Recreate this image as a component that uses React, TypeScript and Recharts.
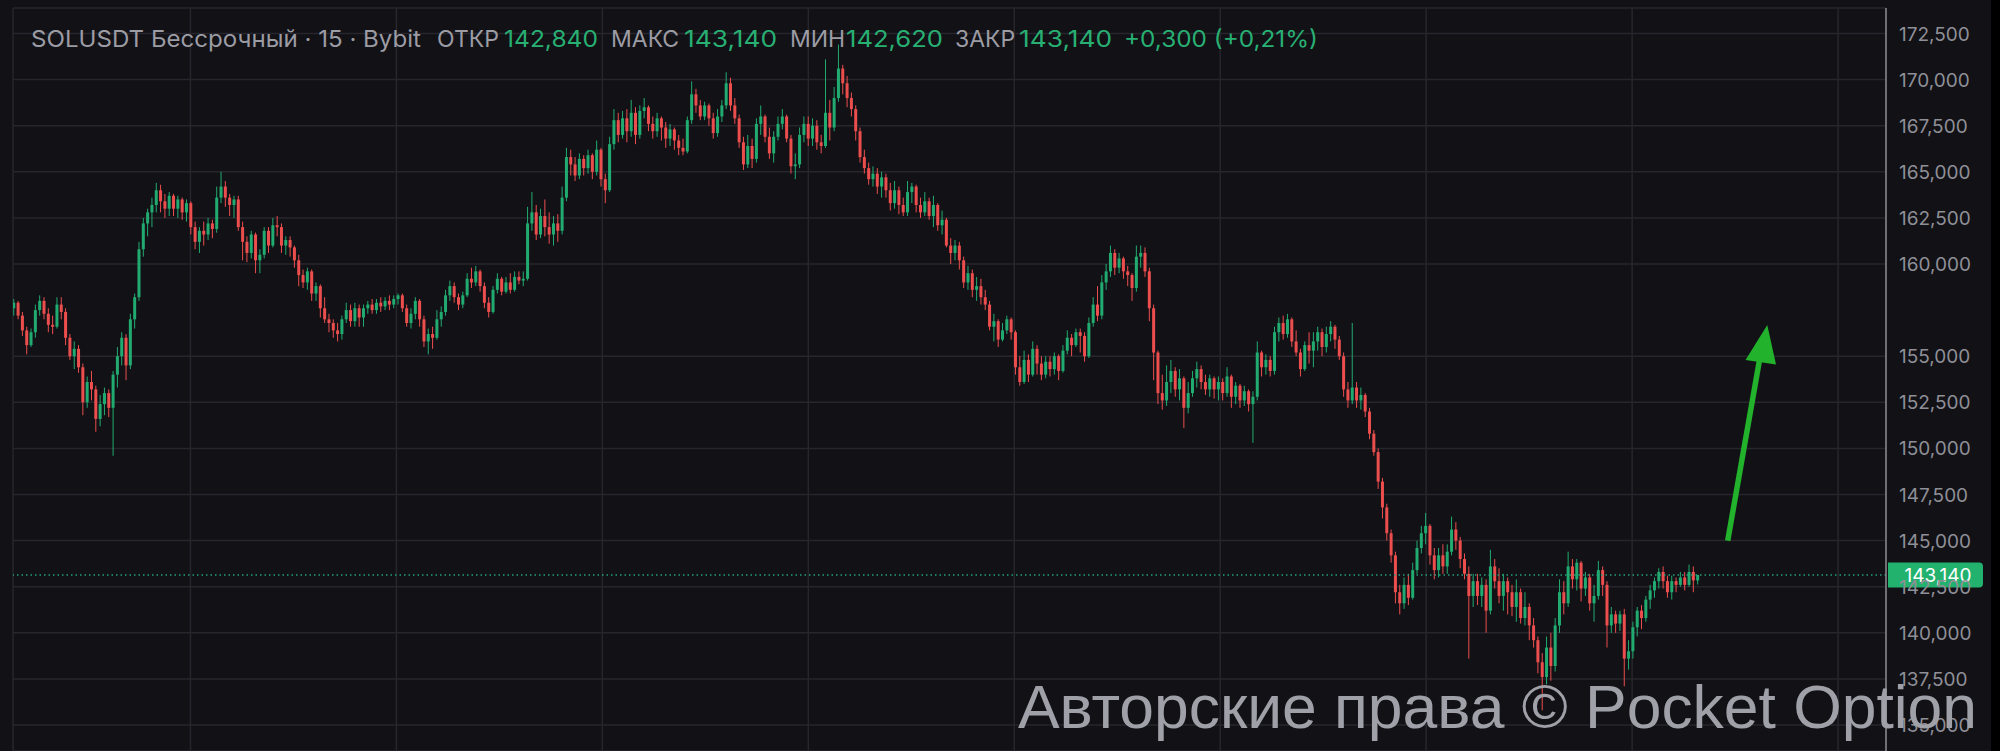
import React from 'react';
import { ComposedChart, Bar, XAxis, YAxis, CartesianGrid, ReferenceLine } from 'recharts';

// ---- Data (SOLUSDT perpetual, Bybit; each candle drawn = 30 min) ----
const firstOpen = 157.6;
const closes = [
  157.9,157.2,156.4,155.6,156.3,157.5,158.0,157.3,156.7,156.6,
  157.8,157.4,156.0,155.0,155.4,154.4,152.5,153.6,153.2,151.6,
  152.4,153.0,152.2,154.0,155.0,156.0,154.5,157.0,158.2,160.8,
  162.2,162.8,163.2,164.0,163.4,163.0,163.7,163.0,163.5,162.8,
  163.3,162.0,161.2,161.8,161.6,162.2,161.9,163.6,164.2,163.6,
  163.2,163.5,162.0,161.2,160.6,161.6,160.2,160.5,161.8,161.0,
  162.1,162.0,161.0,161.3,160.9,160.2,159.4,159.0,159.6,158.4,
  158.8,157.6,157.0,156.8,156.4,156.2,157.0,157.5,156.9,157.6,
  157.1,157.6,157.8,157.5,157.9,157.7,158.0,157.8,158.1,158.3,
  157.6,156.8,157.3,158.0,157.0,155.8,156.2,156.0,157.0,157.4,
  158.3,158.8,158.2,157.8,158.3,159.2,159.0,159.6,158.8,157.9,
  157.4,158.6,159.2,158.5,159.0,158.6,159.3,159.1,159.2,162.2,
  162.8,161.6,162.6,162.0,161.6,162.2,161.8,163.6,165.8,165.4,
  164.8,165.7,165.2,165.9,165.0,166.2,164.6,164.0,166.5,167.8,
  167.0,167.9,167.2,168.2,167.0,168.3,168.5,167.6,167.2,167.9,
  167.4,166.8,167.3,166.7,166.3,166.1,167.8,169.2,168.6,168.0,
  168.6,167.9,167.1,168.0,168.6,169.8,168.6,167.9,166.6,165.4,
  166.4,165.7,167.6,168.0,166.9,166.0,166.9,167.6,168.0,166.8,
  165.3,165.4,167.0,167.6,166.8,167.5,166.6,166.4,168.2,167.4,
  169.0,170.6,169.8,169.0,168.4,167.2,165.8,165.2,164.6,164.9,
  164.2,164.7,164.0,163.3,164.0,163.2,162.8,163.9,164.2,163.2,
  162.8,163.4,162.6,163.2,162.1,162.4,161.0,160.6,161.0,160.2,
  159.0,159.5,158.6,158.8,158.2,157.8,156.6,156.9,155.9,156.4,
  157.0,156.3,154.4,153.6,154.8,154.0,155.4,154.6,154.0,154.7,
  154.3,155.0,154.2,155.3,156.0,155.6,156.3,156.1,155.0,156.8,
  157.8,157.2,159.0,159.6,160.6,159.8,160.3,159.6,159.4,158.7,
  160.4,160.6,159.6,157.6,155.2,153.0,152.6,153.6,154.2,153.2,
  153.8,152.2,153.0,153.8,154.3,153.6,153.2,153.8,153.2,153.6,
  153.0,153.9,152.8,153.4,152.6,153.1,152.4,152.8,155.2,154.4,
  154.8,154.2,156.3,156.8,156.2,157.0,155.8,155.2,154.3,155.6,
  155.3,155.8,156.3,155.5,156.2,156.6,155.9,155.0,153.2,152.6,
  153.3,152.6,152.9,152.0,150.8,149.8,148.2,146.8,145.4,144.2,
  142.2,141.6,142.6,141.9,143.4,144.6,145.4,145.8,144.2,143.4,
  144.2,143.6,144.4,145.6,145.0,144.0,143.2,142.0,142.8,142.0,
  142.6,141.2,143.6,142.8,142.0,142.8,142.2,141.4,142.2,140.8,
  141.4,140.4,139.6,138.4,137.6,139.2,138.2,140.4,142.2,141.6,
  143.6,142.9,143.8,142.4,143.0,141.6,142.0,143.4,142.6,140.4,
  141.0,140.5,141.0,138.6,139.0,140.3,141.2,140.8,141.8,142.3,
  142.8,143.3,142.8,142.2,142.8,142.6,143.0,142.6,143.3,142.84,
  143.14,
];
const highs = [
  158.1,158.0,157.4,156.6,156.5,157.8,158.3,158.2,157.6,157.2,
  158.2,158.2,157.6,156.2,155.8,155.6,154.6,153.9,154.2,153.4,
  152.9,153.3,153.2,154.2,155.5,156.3,156.2,157.3,158.4,161.2,
  162.5,163.0,163.6,164.4,164.3,163.8,163.9,163.8,163.7,163.6,
  163.5,163.4,162.3,162.0,162.3,162.5,162.4,164.2,165.0,164.5,
  163.8,163.7,163.7,162.3,161.5,161.8,161.7,160.8,162.0,162.0,
  162.5,162.6,162.2,161.5,161.5,161.0,160.5,159.7,159.8,159.7,
  159.0,158.9,158.2,157.3,157.0,156.8,157.2,157.9,157.8,157.9,
  157.8,157.8,158.0,158.1,158.1,158.2,158.2,158.3,158.3,158.4,
  158.4,157.8,157.6,158.2,158.1,157.2,156.5,156.6,157.5,157.7,
  158.6,159.1,159.0,158.4,158.5,159.5,159.8,159.9,159.7,159.0,
  158.2,158.8,159.5,159.3,159.3,159.5,159.6,159.6,159.6,163.1,
  163.9,163.2,163.0,163.5,162.8,162.6,162.7,164.2,166.3,166.2,
  165.8,166.0,165.9,166.2,166.0,166.7,166.3,164.9,166.9,168.4,
  168.2,168.3,168.4,168.9,168.5,168.6,169.0,168.6,168.0,168.2,
  168.0,167.7,167.6,167.4,167.0,166.8,168.0,169.9,169.5,168.9,
  168.8,168.7,168.2,168.4,168.9,170.4,170.1,169.0,168.1,166.9,
  167.0,166.8,167.9,168.6,168.1,167.4,167.2,168.0,168.4,168.1,
  167.0,166.0,167.4,168.0,168.0,167.9,167.8,167.0,171.1,168.9,
  169.6,171.9,170.8,170.2,169.3,168.6,167.4,166.2,165.5,165.3,
  165.2,165.0,164.9,164.4,164.5,164.2,163.6,164.5,164.4,164.3,
  163.6,163.9,163.6,163.7,163.3,162.9,162.5,161.4,161.3,161.2,
  160.4,159.9,159.7,159.3,159.2,158.6,158.0,157.3,157.0,156.8,
  157.2,157.1,156.4,155.0,155.3,155.1,155.8,155.6,155.0,155.0,
  155.0,155.2,155.1,155.6,156.4,156.2,156.5,156.5,156.3,157.1,
  158.2,158.8,159.4,160.0,161.0,160.8,160.6,160.4,159.9,159.5,
  161.0,161.0,160.9,159.8,157.8,155.3,154.0,154.5,154.8,154.4,
  154.3,153.9,153.6,154.2,154.7,154.5,154.0,154.0,153.9,153.9,
  153.8,154.4,154.0,153.6,153.5,153.4,153.2,153.1,155.8,155.3,
  155.1,155.0,156.6,157.1,157.2,157.3,157.1,156.4,155.4,155.8,
  156.3,156.3,156.6,156.5,156.6,156.9,156.7,156.1,155.2,153.6,
  156.8,153.6,153.3,153.0,152.2,151.0,150.0,148.4,147.0,145.6,
  144.4,142.6,143.0,143.2,143.8,145.0,145.8,146.5,145.9,144.6,
  144.6,144.8,144.8,146.3,146.0,145.2,144.3,143.6,143.2,143.2,
  143.0,142.9,144.5,144.0,143.5,143.2,143.0,142.6,142.9,142.4,
  142.2,141.6,140.8,139.8,138.9,139.8,140.0,140.8,142.9,142.8,
  144.4,144.0,144.0,143.9,143.3,143.2,142.6,143.9,143.6,142.8,
  141.4,141.2,141.2,141.3,139.6,140.6,141.4,141.5,142.0,142.6,
  143.0,143.5,143.6,143.1,143.1,143.0,143.3,143.3,143.7,143.6,
  143.14,
];
const lows = [
  157.2,157.0,156.1,155.1,155.5,156.0,157.2,157.0,156.3,156.2,
  156.5,157.0,155.6,154.8,154.3,154.1,151.8,152.2,152.6,150.9,
  151.2,151.8,151.7,149.6,153.3,154.5,153.7,154.3,156.5,158.0,
  160.4,161.5,162.0,162.8,162.8,162.5,162.6,162.6,162.5,162.4,
  162.3,161.6,160.8,160.6,161.0,161.3,161.4,161.7,163.3,163.1,
  162.6,162.5,161.8,160.2,160.1,160.3,159.5,159.5,160.3,160.6,
  160.9,161.5,160.6,160.5,160.4,159.8,158.8,158.7,158.6,158.0,
  158.0,157.1,156.8,156.3,156.0,155.8,155.9,156.8,156.6,156.6,
  156.6,156.6,157.3,157.3,157.3,157.4,157.5,157.5,157.6,157.8,
  157.4,156.6,156.5,157.0,156.6,155.5,155.1,155.4,155.9,156.6,
  157.2,158.0,157.9,157.5,157.6,158.2,158.7,158.8,158.5,157.6,
  157.1,157.3,158.4,158.3,158.4,158.4,158.5,158.9,158.8,159.1,
  161.8,161.3,161.4,161.5,161.1,161.0,161.2,161.6,163.4,164.8,
  164.5,164.6,164.8,164.9,164.6,164.8,164.2,163.3,163.9,166.2,
  166.6,166.8,166.6,166.9,166.5,166.8,167.9,167.2,166.8,166.9,
  166.7,166.3,166.4,166.2,165.9,165.9,166.0,167.6,168.2,167.8,
  167.8,167.5,166.8,166.9,167.7,168.4,168.3,167.6,166.3,165.1,
  165.2,165.2,165.5,167.0,166.6,165.7,165.5,166.7,167.3,166.6,
  164.9,164.6,165.2,166.6,166.4,166.4,166.2,166.0,166.3,166.7,
  167.2,168.8,169.2,168.5,168.0,166.7,165.5,164.9,164.3,164.2,
  163.8,163.6,163.6,162.9,163.0,162.7,162.6,162.6,163.3,162.8,
  162.5,162.6,162.4,162.0,161.8,161.6,160.9,160.0,160.2,159.7,
  158.7,158.6,158.2,158.0,157.8,157.5,156.4,155.8,155.5,155.8,
  156.2,155.9,154.0,153.4,153.5,153.6,153.9,154.0,153.7,153.8,
  153.9,154.0,153.7,154.1,155.1,155.0,155.5,155.2,154.7,154.9,
  156.6,156.9,157.0,158.6,159.3,159.4,159.5,159.2,158.8,158.0,
  158.5,159.8,159.3,156.9,153.7,152.4,152.1,152.3,153.0,152.8,
  152.6,151.1,151.9,152.8,153.3,153.2,152.9,152.8,152.7,152.6,
  152.6,152.8,152.2,152.4,152.2,152.3,152.0,150.3,152.6,153.9,
  154.0,153.9,154.0,155.8,155.9,156.0,155.5,155.0,153.9,154.2,
  154.6,154.4,155.3,155.0,155.2,155.8,155.4,154.8,152.8,152.2,
  152.4,152.2,152.1,151.7,150.5,149.6,147.8,146.2,145.0,143.8,
  141.6,141.0,141.3,141.5,141.8,143.2,144.3,144.8,143.7,142.9,
  143.0,143.2,143.2,144.2,144.5,143.5,142.9,138.6,141.4,141.5,
  141.4,140.0,141.0,142.4,141.6,141.2,141.0,140.9,140.6,140.5,
  140.4,139.6,139.2,137.8,135.8,137.2,137.4,137.9,140.0,141.0,
  141.4,142.4,142.3,141.7,142.0,141.2,140.6,141.8,142.0,139.2,
  140.0,140.0,140.1,137.1,138.0,138.6,139.8,140.2,140.6,141.3,
  141.9,142.4,142.4,141.9,141.8,142.2,142.5,142.3,142.5,142.2,
  142.62,
];
const priceTicks = [135, 137.5, 140, 142.5, 145, 147.5, 150, 152.5, 155, 160, 162.5, 165, 167.5, 170, 172.5];
// day boundaries, in candle-index units
const dayTicks = [41.0, 88.7, 136.4, 184.1, 231.8, 279.5, 327.2, 374.9, 422.6];
const lastPrice = 143.14;
const titleParts = [
  { text: 'SOLUSDT Бессрочный · 15 · Bybit', kind: 'label', x: 31, w: 390 },
  { text: 'ОТКР', kind: 'label', x: 437 },
  { text: '142,840', kind: 'value', x: 504, w: 94 },
  { text: 'МАКС', kind: 'label', x: 611 },
  { text: '143,140', kind: 'value', x: 684, w: 93 },
  { text: 'МИН', kind: 'label', x: 790 },
  { text: '142,620', kind: 'value', x: 846, w: 97 },
  { text: 'ЗАКР', kind: 'label', x: 955 },
  { text: '143,140', kind: 'value', x: 1019, w: 93 },
  { text: '+0,300 (+0,21%)', kind: 'value', x: 1124, w: 194 },
];

const data = closes.map((c, i) => ({
  i,
  o: i === 0 ? firstOpen : closes[i - 1],
  h: highs[i],
  l: lows[i],
  c,
}));

const BG = '#111116';
const GRID = '#26262c';
const UP = '#22ab70';
const DOWN = '#ec4e4e';
const AXIS_TEXT = '#8f8f97';
const fmt = (v: number) => v.toFixed(3).replace('.', ',');

function Candle(props: any) {
  const { x, y, width, height, payload } = props;
  if (!payload || x == null || y == null) return null;
  const { o, c, h, l } = payload;
  const top = Math.min(y, y + height);
  const H = Math.abs(height);
  const span = h - l;
  const k = span > 0 ? H / span : 0;
  const yo = top + (h - o) * k;
  const yc = top + (h - c) * k;
  const bTop = Math.min(yo, yc);
  const bH = Math.max(1, Math.abs(yo - yc));
  const color = c >= o ? UP : DOWN;
  const cx = x + width / 2;
  return (
    <g>
      <line x1={cx} x2={cx} y1={top} y2={top + Math.max(H, 1)} stroke={color} strokeWidth={1} />
      <rect x={x} y={bTop} width={width} height={bH} fill={color} />
    </g>
  );
}

function PriceTick(props: any) {
  const { x, y, payload } = props;
  return (
    <text x={x} y={y} dy={7} textAnchor="start" fill={AXIS_TEXT} fontSize={19} fontFamily="Inter, Roboto, sans-serif">
      {fmt(payload.value)}
    </text>
  );
}

function PriceLabel(props: any) {
  const vb = props.viewBox || {};
  const x0 = (vb.x || 0) + (vb.width || 0) + 2;
  const yc = vb.y || 0;
  const w = 95;
  const h = 25;
  const r = 4;
  const t = yc - h / 2;
  const d = `M${x0},${t} H${x0 + w - r} Q${x0 + w},${t} ${x0 + w},${t + r} V${t + h - r} Q${x0 + w},${t + h} ${x0 + w - r},${t + h} H${x0} Z`;
  return (
    <g>
      <path d={d} fill="#23b26e" />
      <text x={x0 + 50} y={yc + 7} textAnchor="middle" fill="#ffffff" fontSize={19} fontFamily="Inter, Roboto, sans-serif">
        {fmt(lastPrice)}
      </text>
    </g>
  );
}

export default function App() {
  return (
    <div style={{ position: 'fixed', left: 0, top: 0, width: 2000, height: 751, background: BG, overflow: 'hidden' }}>
      <ComposedChart width={2000} height={751} data={data} margin={{ top: 8, right: 0, bottom: 0, left: 13 }}>
        <CartesianGrid stroke={GRID} strokeWidth={1.5} />
        <XAxis dataKey="i" type="number" domain={[-0.1, 433.7]} ticks={dayTicks} hide allowDataOverflow />
        <YAxis
          orientation="right"
          width={114}
          domain={[133.59, 173.883]}
          allowDataOverflow
          ticks={priceTicks}
          interval={0}
          tickLine={false}
          tickSize={0}
          tickMargin={13}
          axisLine={{ stroke: '#8a8a90', strokeWidth: 1.5 }}
          tick={<PriceTick />}
        />
        <Bar dataKey={(d: any) => [d.l, d.h]} barSize={3} shape={<Candle />} isAnimationActive={false} />
        <ReferenceLine
          y={lastPrice}
          stroke="#26a07c"
          strokeWidth={1.5}
          strokeDasharray="1.5 3"
          label={<PriceLabel />}
        />
      </ComposedChart>
      <svg width={2000} height={751} style={{ position: 'absolute', left: 0, top: 0, pointerEvents: 'none' }}>
        {titleParts.map((p, idx) => (
          <text
            key={idx}
            x={p.x}
            y={47}
            fill={p.kind === 'label' ? '#9c9ca4' : '#28b073'}
            fontSize={23}
            fontFamily="Inter, Roboto, sans-serif"
            {...(p.w ? { textLength: p.w, lengthAdjust: 'spacingAndGlyphs' } : {})}
          >
            {p.text}
          </text>
        ))}
        <line x1={1727.7} y1={540.7} x2={1759.5} y2={360} stroke="#22b22b" strokeWidth={5.5} />
        <polygon points="1745.5,360 1767.3,325 1776,364.5" fill="#22b22b" />
        <text
          x={1018}
          y={728}
          fill="#a0a0a8"
          fontSize={62}
          fontFamily="'Liberation Sans', Arial, sans-serif"
          textLength={959}
          lengthAdjust="spacingAndGlyphs"
        >
          Авторские права © Pocket Option
        </text>
        <rect x={1991} y={0} width={9} height={751} fill="#000000" />
      </svg>
    </div>
  );
}
